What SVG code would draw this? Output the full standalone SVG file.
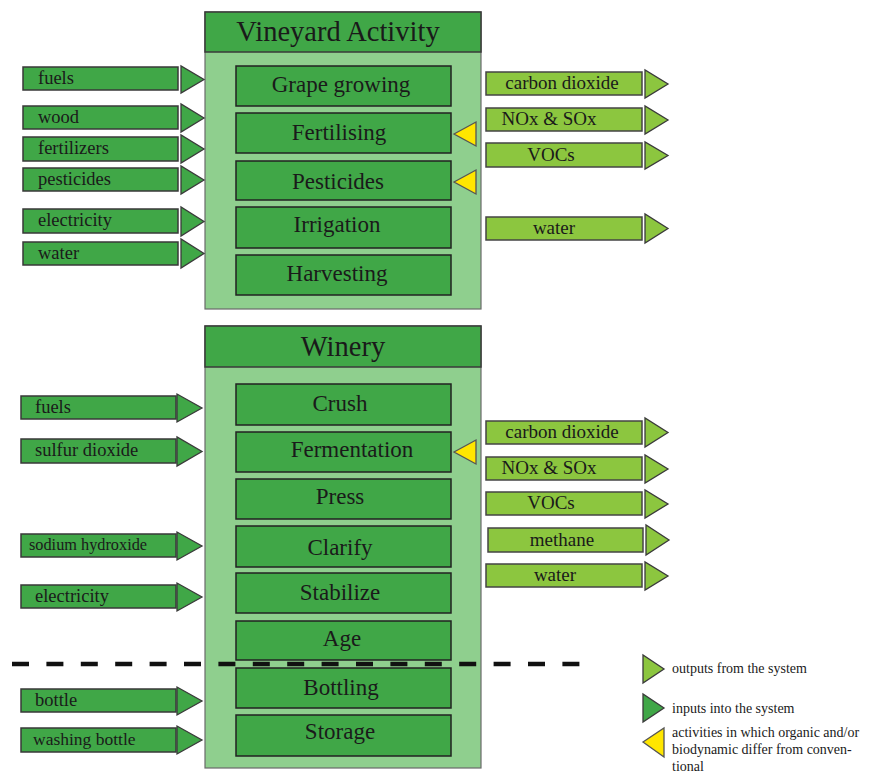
<svg xmlns="http://www.w3.org/2000/svg" width="871" height="773" viewBox="0 0 871 773">
<style>
.body{fill:#8fcf8e;stroke:#6a6a6a;stroke-width:1.2}
.hdr{fill:#40a747;stroke:#3a3a3a;stroke-width:1.5}
.step{fill:#40a747;stroke:#222;stroke-width:1.5}
.in{fill:#40a747;stroke:#383838;stroke-width:1.5}
.out{fill:#8cc63f;stroke:#444;stroke-width:1.5}
.tin{fill:#40a747;stroke:#3a3a3a;stroke-width:1.3}
.tout{fill:#8cc63f;stroke:#3a3a3a;stroke-width:1.3}
.yel{fill:#ffe600;stroke:#555;stroke-width:1.3}
text{font-family:"Liberation Serif","Times New Roman",serif;fill:#1a1a1a}
.h{font-size:28.5px;text-anchor:middle}
.s{font-size:23px;text-anchor:middle}
.l{font-size:18.5px}
.o{font-size:19px;text-anchor:middle}
.g{font-size:14px}
.dash{stroke:#111;stroke-width:4.5;stroke-dasharray:17 17.4;fill:none}
</style>

<g id="vineyard">
<rect class="body" x="205" y="12" width="276" height="297"/>
<rect class="hdr" x="205" y="12" width="276" height="40"/>
<text class="h" x="338" y="41">Vineyard Activity</text>
</g>
<g id="grape-growing"><rect class="step" x="236" y="66" width="215" height="40"/><text class="s" x="341" y="92">Grape growing</text></g>
<g id="fertilising"><rect class="step" x="236" y="113" width="215" height="40"/><text class="s" x="339" y="140">Fertilising</text></g>
<g id="pesticides-step"><rect class="step" x="236" y="161" width="215" height="39"/><text class="s" x="338" y="189">Pesticides</text></g>
<g id="irrigation"><rect class="step" x="236" y="207" width="215" height="41"/><text class="s" x="337" y="232">Irrigation</text></g>
<g id="harvesting"><rect class="step" x="236" y="255" width="215" height="40"/><text class="s" x="337" y="281">Harvesting</text></g>

<g id="winery">
<rect class="body" x="205" y="326" width="276" height="442"/>
<rect class="hdr" x="205" y="326" width="276" height="41"/>
<text class="h" x="343" y="356">Winery</text>
</g>
<g id="crush"><rect class="step" x="236" y="384" width="215" height="41"/><text class="s" x="340" y="411">Crush</text></g>
<g id="fermentation"><rect class="step" x="236" y="432" width="215" height="40"/><text class="s" x="352" y="457">Fermentation</text></g>
<g id="press"><rect class="step" x="236" y="479" width="215" height="40"/><text class="s" x="340" y="504">Press</text></g>
<g id="clarify"><rect class="step" x="236" y="526" width="215" height="41"/><text class="s" x="340" y="555">Clarify</text></g>
<g id="stabilize"><rect class="step" x="236" y="573" width="215" height="40"/><text class="s" x="340" y="600">Stabilize</text></g>
<g id="age"><rect class="step" x="236" y="621" width="215" height="39"/><text class="s" x="342" y="646">Age</text></g>
<g id="bottling"><rect class="step" x="236" y="668" width="215" height="40"/><text class="s" x="341" y="695">Bottling</text></g>
<g id="storage"><rect class="step" x="236" y="715" width="215" height="41"/><text class="s" x="340" y="739">Storage</text></g>

<!-- vineyard inputs -->
<g id="v-in-fuels"><rect class="in" x="23" y="67" width="155" height="23"/><text class="l" x="38" y="84">fuels</text></g>
<g id="v-in-wood"><rect class="in" x="23" y="106" width="155" height="23"/><text class="l" x="38" y="123">wood</text></g>
<g id="v-in-fertilizers"><rect class="in" x="23" y="137" width="155" height="24"/><text class="l" x="38" y="154">fertilizers</text></g>
<g id="v-in-pesticides"><rect class="in" x="23" y="168" width="155" height="23"/><text class="l" x="38" y="185">pesticides</text></g>
<g id="v-in-electricity"><rect class="in" x="23" y="209" width="155" height="24"/><text class="l" x="38" y="226">electricity</text></g>
<g id="v-in-water"><rect class="in" x="23" y="242" width="155" height="23"/><text class="l" x="38" y="259">water</text></g>

<!-- vineyard outputs -->
<g id="v-out-co2"><rect class="out" x="486" y="72" width="156" height="23"/><text class="o" x="562" y="89">carbon dioxide</text></g>
<g id="v-out-nox"><rect class="out" x="486" y="108" width="156" height="23"/><text class="o" x="549" y="125">NOx &amp; SOx</text></g>
<g id="v-out-vocs"><rect class="out" x="486" y="143" width="156" height="24"/><text class="o" x="551" y="161">VOCs</text></g>
<g id="v-out-water"><rect class="out" x="486" y="217" width="156" height="23"/><text class="o" x="554" y="234">water</text></g>

<!-- winery inputs -->
<g id="w-in-fuels"><rect class="in" x="21" y="396" width="155" height="23"/><text class="l" x="35" y="413">fuels</text></g>
<g id="w-in-so2"><rect class="in" x="21" y="439" width="155" height="24"/><text class="l" x="35" y="456">sulfur dioxide</text></g>
<g id="w-in-naoh"><rect class="in" x="21" y="534" width="155" height="23"/><text class="l" x="29" y="550" style="font-size:16.3px">sodium hydroxide</text></g>
<g id="w-in-electricity"><rect class="in" x="21" y="585" width="155" height="23"/><text class="l" x="35" y="602">electricity</text></g>
<g id="w-in-bottle"><rect class="in" x="21" y="689" width="155" height="23"/><text class="l" x="35" y="706">bottle</text></g>
<g id="w-in-washing"><rect class="in" x="21" y="728" width="155" height="24"/><text class="l" x="33" y="745" style="font-size:17.5px">washing bottle</text></g>

<!-- winery outputs -->
<g id="w-out-co2"><rect class="out" x="486" y="421" width="156" height="23"/><text class="o" x="562" y="438">carbon dioxide</text></g>
<g id="w-out-nox"><rect class="out" x="486" y="457" width="156" height="23"/><text class="o" x="549" y="474">NOx &amp; SOx</text></g>
<g id="w-out-vocs"><rect class="out" x="486" y="492" width="156" height="23"/><text class="o" x="551" y="509">VOCs</text></g>
<g id="w-out-methane"><rect class="out" x="488" y="528" width="155" height="24"/><text class="o" x="562" y="546">methane</text></g>
<g id="w-out-water"><rect class="out" x="486" y="564" width="156" height="23"/><text class="o" x="555" y="581">water</text></g>

<g id="connectors">
<polygon class="tin" points="181,66 181,93 204,79.5"/>
<polygon class="tin" points="181,104 181,132 204,118"/>
<polygon class="tin" points="181,135 181,163 204,149"/>
<polygon class="tin" points="181,166 181,194 204,180"/>
<polygon class="tin" points="181,207 181,236 204,221.5"/>
<polygon class="tin" points="181,239 181,268 204,253.5"/>

<polygon class="tout" points="645,70 645,98 668,84"/>
<polygon class="tout" points="645,106 645,134 668,120"/>
<polygon class="tout" points="645,142 645,169 668,155.5"/>
<polygon class="tout" points="645,214 645,243 668,228.5"/>

<polygon class="tin" points="177,394 177,422 202,408"/>
<polygon class="tin" points="177,437 177,466 202,451.5"/>
<polygon class="tin" points="177,532 177,560 202,546"/>
<polygon class="tin" points="177,583 177,611 202,597"/>
<polygon class="tin" points="177,687 177,715 202,701"/>
<polygon class="tin" points="177,726 177,754 202,740"/>

<polygon class="tout" points="645,418 645,447 668,432.5"/>
<polygon class="tout" points="645,455 645,483 668,469"/>
<polygon class="tout" points="645,490 645,518 668,504"/>
<polygon class="tout" points="646,525 646,555 669,540"/>
<polygon class="tout" points="645,562 645,590 668,576"/>

<polygon class="yel" points="454,134 476,122 476,146"/>
<polygon class="yel" points="454,182 476,170 476,194"/>
<polygon class="yel" points="454,452 476,440 476,464"/>

<line class="dash" x1="12" y1="664" x2="580" y2="664"/>
</g>

<g id="legend">
<polygon class="tout" points="643,655 643,683 664,669"/>
<text class="g" x="672" y="673">outputs from the system</text>
<polygon class="tin" points="643,694 643,722 664,708"/>
<text class="g" x="672" y="713">inputs into the system</text>
<polygon class="yel" points="643,742 664,728 664,757"/>
<text class="g" x="672" y="737">activities in which organic and/or</text>
<text class="g" x="672" y="754">biodynamic differ from conven-</text>
<text class="g" x="672" y="771">tional</text>
</g>
</svg>
